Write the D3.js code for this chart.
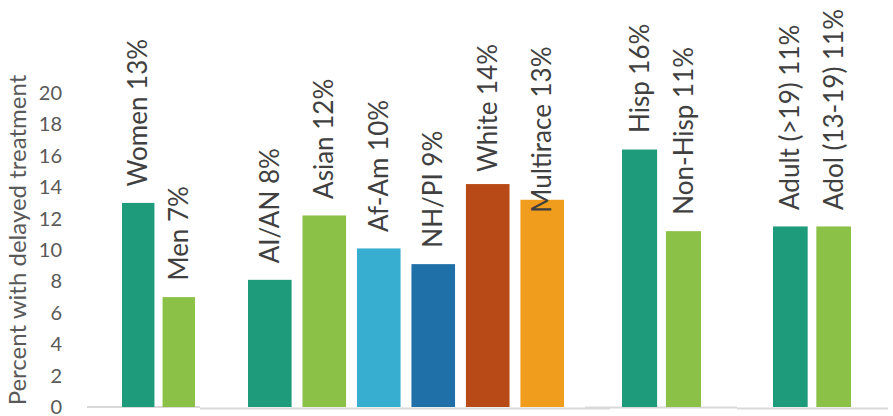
<!DOCTYPE html>
<html>
<head>
<meta charset="utf-8">
<script src="https://cdn.jsdelivr.net/npm/d3@7"></script>
<style>
  body { margin: 0; background: #fff; }
  svg { display: block; }
</style>
</head>
<body>
<div id="chart"></div>
<script>
// data
var sexCats = ["Women", "Men"],
    sexVals = [13.0, 7.0],
    sexPct = ["13%", "7%"];
var raceCats = ["AI/AN", "Asian", "Af-Am", "NH/PI", "White", "Multirace"],
    raceVals = [8.1, 12.2, 10.1, 9.1, 14.2, 13.2],
    racePct = ["8%", "12%", "10%", "9%", "14%", "13%"];
var ethCats = ["Hisp", "Non-Hisp"],
    ethVals = [16.4, 11.2],
    ethPct = ["16%", "11%"];
var ageCats = ["Adult (>19)", "Adol (13-19)"],
    ageVals = [11.5, 11.5],
    agePct = ["11%", "11%"];
var yTicks = [0, 2, 4, 6, 8, 10, 12, 14, 16, 18, 20];

// colours per bar
var sexColors = ["#1e9b7a", "#8bc147"],
    raceColors = ["#1e9b7a", "#8bc147", "#37aecf", "#1f6fa9", "#b84a17", "#f09c1c"];

var width = 893, height = 416;

var svg = d3.select("#chart")
    .append("svg")
    .attr("width", width)
    .attr("height", height);

// Set Y (shared by all four small panels)
const y = d3.scaleLinear()
    .domain([0, 20])
    .range([407, 93]);

// each panel gets its own band scale and its own base line
var panels = [
    {cats: sexCats, vals: sexVals, pct: sexPct, colors: sexColors, range: [122, 195], base: [87, 200, 407]},
    {cats: raceCats, vals: raceVals, pct: racePct, colors: raceColors, range: [248, 564], base: [200, 610, 408.5]},
    {cats: ethCats, vals: ethVals, pct: ethPct, colors: sexColors, range: [622, 701], base: [585, 737, 407.5]},
    {cats: ageCats, vals: ageVals, pct: agePct, colors: sexColors, range: [773, 851], base: [737, 888, 408.5]}
];

// a couple of labels that sit off the usual spot
var labelNudge = {"White": 4.5, "Multirace": 29.5};

panels.forEach(function (p) {
    var data = p.cats.map((c, i) => ({name: c, score: p.vals[i], pct: p.pct[i], color: p.colors[i]}));

    const x = d3.scaleBand()
        .domain(p.cats)
        .range(p.range)
        .paddingInner(0.2)
        .paddingOuter(0);

    // base line
    svg.append("line")
        .attr("x1", p.base[0])
        .attr("x2", p.base[1])
        .attr("y1", p.base[2])
        .attr("y2", p.base[2])
        .attr("stroke", "#d9d9d9")
        .attr("stroke-width", 2);

    var g = svg.append("g");

    g.selectAll("rect")
        .data(data)
        .join("rect")
        .attr("x", d => x(d.name))
        .attr("y", d => y(d.score))
        .attr("width", x.bandwidth())
        .attr("height", d => y(0) - y(d.score))
        .attr("fill", d => d.color);

    g.selectAll("text")
        .data(data)
        .join("text")
        .attr("transform", d => {
            var tx = x(d.name) + x.bandwidth() / 2,
                ty = y(d.score) - 16.5 + (labelNudge[d.name] || 0);
            return `translate(${tx},${ty}) rotate(-90)`;
        })
        .attr("dy", "0.35em")
        .attr("text-anchor", "start")
        .attr("font-family", "Lato, 'Open Sans', sans-serif")
        .attr("font-size", "26px")
        .attr("fill", "#404040")
        .text(d => d.name + " " + d.pct);
});

// y axis, labels only
function yAxis(g) {
    g.attr("transform", "translate(62,0)")
        .call(d3.axisLeft(y).tickValues(yTicks).tickSize(0).tickPadding(0))
        .call(g => g.select(".domain").remove())
        .attr("font-family", "Lato, 'Open Sans', sans-serif")
        .attr("font-size", "20px")
        .selectAll("text")
        .attr("fill", "#595959");
}
svg.append("g").call(yAxis);

// y title
svg.append("text")
    .attr("transform", "translate(18,240) rotate(-90)")
    .attr("dy", "0.35em")
    .attr("text-anchor", "middle")
    .attr("font-family", "Lato, 'Open Sans', sans-serif")
    .attr("font-size", "24px")
    .attr("fill", "#595959")
    .text("Percent with delayed treatment");
</script>
</body>
</html>
